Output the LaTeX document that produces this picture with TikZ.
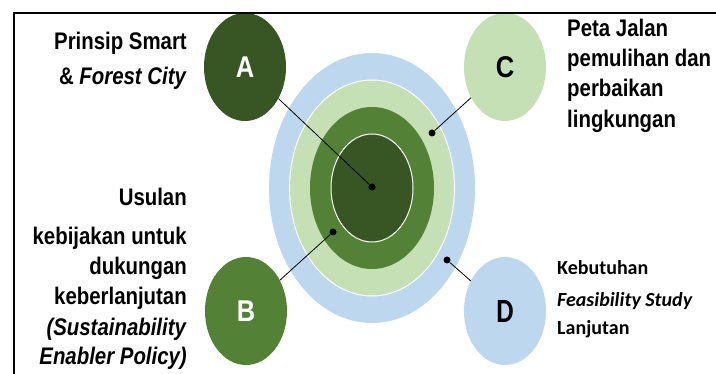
\documentclass[tikz,border=0pt]{standalone}
\usepackage{fontspec}
\usepackage{graphicx}
\setmainfont{Liberation Sans}
\newfontfamily\calib{Carlito}
\usetikzlibrary{shapes.geometric}
\definecolor{dkg}{HTML}{375623}
\definecolor{mdg}{HTML}{538135}
\definecolor{ltg}{HTML}{C5E0B4}
\definecolor{ltb}{HTML}{BDD7EE}
\newcommand{\sqz}[1]{\scalebox{0.85}[1]{#1}}
\begin{document}
\begin{tikzpicture}[x=1pt,y=-1pt,
  ring/.style={ellipse, inner sep=0pt, draw=none},
  bubble/.style={ellipse, inner sep=0pt, minimum width=82pt, minimum height=108pt},
  dot/.style={circle, fill=black, inner sep=0pt, minimum size=7pt},
  conn/.style={draw=black, line width=0.8pt},
  ltxt/.style={anchor=base east, inner sep=0pt, font=\fontsize{24}{24}\selectfont\bfseries},
  rtxt/.style={anchor=base west, inner sep=0pt, font=\fontsize{24}{24}\selectfont\bfseries},
  ctxt/.style={anchor=base west, inner sep=0pt, font=\calib\fontsize{20}{20}\selectfont\bfseries},
  letter/.style={font=\fontsize{30}{30}\selectfont\bfseries}
]
\useasboundingbox (0,0) rectangle (716,374);
\fill[white] (0,0) rectangle (716,374);

% concentric rings
\node[ring, fill=ltb, minimum width=206pt, minimum height=270pt] (r4) at (372,188) {};
\node[ring, fill=ltg, draw=white, line width=1pt, minimum width=165pt, minimum height=216pt] (r3) at (372,188) {};
\node[ring, fill=mdg, minimum width=124pt, minimum height=162pt] (r2) at (372,188) {};
\node[ring, fill=dkg, draw=white, line width=1pt, minimum width=82pt, minimum height=108pt] (r1) at (372,188) {};

% bubbles
\node[bubble, fill=dkg, text=white, letter] (A) at (245,67) {\sqz{A}};
\node[bubble, fill=mdg, text=white, letter] (B) at (246,311) {\sqz{B}};
\node[bubble, fill=ltg, text=black, letter] (C) at (505,67) {\sqz{C}};
\node[bubble, fill=ltb, text=black, font=\calib\fontsize{34}{34}\selectfont\bfseries] (D) at (505,311) {\scalebox{0.8}[1]{D}};

% dots
\node[dot] (dA) at (372,187) {};
\node[dot] (dB) at (333,232) {};
\node[dot] (dC) at (432,133) {};
\node[dot] (dD) at (447,260) {};

% connectors
\draw[conn] (dA) -- (A);
\draw[conn] (dB) -- (B);
\draw[conn] (dC) -- (C);
\draw[conn] (dD) -- (D);

% texts top-left
\node[ltxt] (ta1) at (187,50) {\sqz{Prinsip Smart}};
\node[ltxt] (ta2) at (187,85) {\sqz{\& \textit{Forest City}}};

% texts bottom-left
\node[ltxt] (tb1) at (187,206) {\sqz{Usulan}};
\node[ltxt] (tb2) at (187,245) {\sqz{kebijakan untuk}};
\node[ltxt] (tb3) at (187,275) {\sqz{dukungan}};
\node[ltxt] (tb4) at (187,305) {\sqz{keberlanjutan}};
\node[ltxt] (tb5) at (187,336) {\sqz{\textit{(Sustainability}}};
\node[ltxt] (tb6) at (187,365) {\sqz{\textit{Enabler Policy)}}};

% texts top-right
\node[rtxt] (tc1) at (567,37) {\sqz{Peta Jalan}};
\node[rtxt] (tc2) at (567,67) {\sqz{pemulihan dan}};
\node[rtxt] (tc3) at (567,97) {\sqz{perbaikan}};
\node[rtxt] (tc4) at (567,128) {\sqz{lingkungan}};

% texts bottom-right
\node[ctxt] (td1) at (557,275) {Kebutuhan};
\node[ctxt] (td2) at (557,307) {\textit{Feasibility Study}};
\node[ctxt] (td3) at (557,335) {Lanjutan};

% frame
\draw[line width=2pt] (716,13.5) -- (13.5,13.5) -- (13.5,374);
\end{tikzpicture}
\end{document}
